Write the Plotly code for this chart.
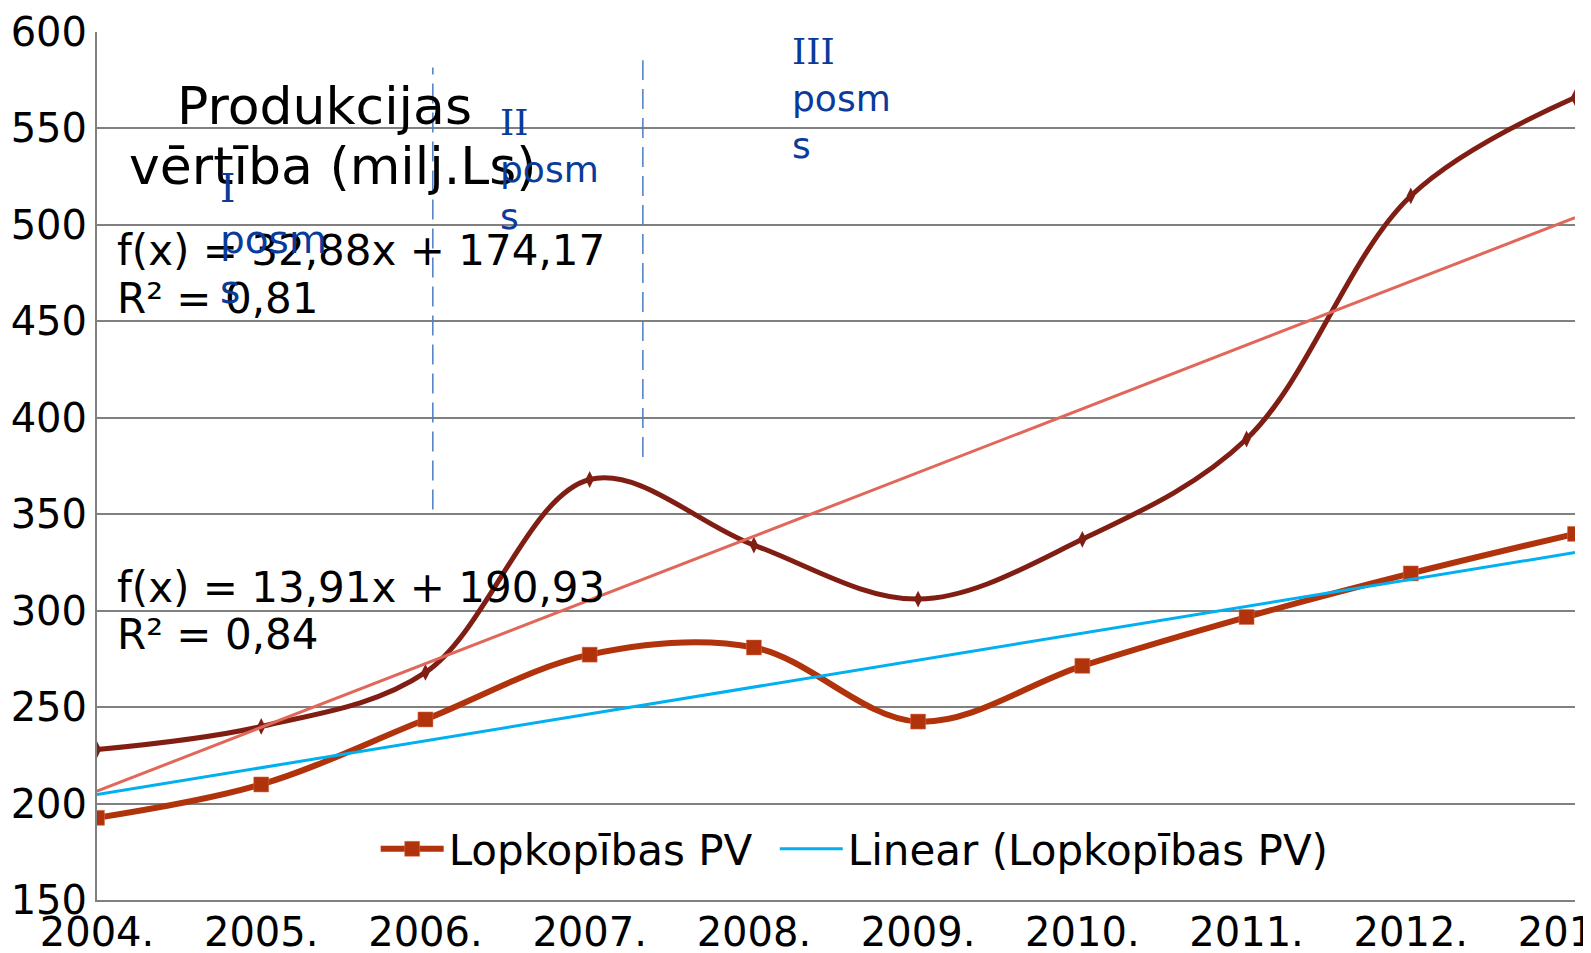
import numpy as np
import plotly.graph_objects as go

# ---------------- data ----------------
years = ["2004.", "2005.", "2006.", "2007.", "2008.", "2009.", "2010.", "2011.", "2012.", "2013."]
produkcijas_pv = [228, 240, 268, 368, 334, 306, 337, 389, 515, 566]
lopkopibas_pv = [192.6, 209.9, 243.6, 277.2, 280.9, 242.5, 271.4, 296.7, 319.3, 339.8]
y_ticks = [150, 200, 250, 300, 350, 400, 450, 500, 550, 600]

eq_total = ["f(x) = 32,88x + 174,17", "R² = 0,81"]
eq_lop = ["f(x) = 13,91x + 190,93", "R² = 0,84"]
title_lines = ["Produkcijas", "vērtība (milj.Ls)"]
stage_num = ["I", "II", "III"]
stage_word = ["posm", "s"]
# stage boundary markers (category position, y from, y to)
stage_x = [2.045, 3.324]
stage_y0 = [352.4, 379.7]
stage_y1 = [581.6, 585.3]

# ---------------- figure ----------------
OFF = 8  # default body margin of the page
W, H = 1583, 945
L, R, T, B = 89.4, 16, 23.5, 53
FONT = "DejaVu Sans"

xi = list(range(len(years)))
t = np.arange(1, len(years) + 1)
k1, b1 = np.polyfit(t, produkcijas_pv, 1)
k2, b2 = np.polyfit(t, lopkopibas_pv, 1)
trend_total = list(k1 * t + b1)
trend_lop = list(k2 * t + b2)

fig = go.Figure()
fig.add_trace(go.Scatter(
    x=xi, y=produkcijas_pv, mode="lines+markers", showlegend=False,
    line=dict(color="#801E14", width=5, shape="spline", smoothing=1.0),
    marker=dict(symbol="diamond-tall", size=12, color="#801E14"),
    name="Produkcijas PV"))
fig.add_trace(go.Scatter(
    x=xi, y=lopkopibas_pv, mode="lines+markers", legend="legend",
    line=dict(color="#B0330C", width=6, shape="spline", smoothing=1.0),
    marker=dict(symbol="square", size=15, color="#B0330C",
                line=dict(color="#E07050", width=0.5)),
    name="Lopkopības PV"))
fig.add_trace(go.Scatter(
    x=xi, y=trend_total, mode="lines", showlegend=False,
    line=dict(color="#E0675A", width=3), name="Linear (Produkcijas PV)"))
fig.add_trace(go.Scatter(
    x=xi, y=trend_lop, mode="lines", legend="legend2",
    line=dict(color="#00B0F0", width=3), name="Linear (Lopkopības PV)"))

for sx, sy0, sy1 in zip(stage_x, stage_y0, stage_y1):
    fig.add_shape(type="line", xref="x", yref="y", x0=sx, x1=sx, y0=sy0, y1=sy1,
                  line=dict(color="#4A7EC4", width=1.5, dash="20px,9px"))

pw = W - L - R
ph = H - T - B


def px(x):
    return (x - OFF - L) / pw


def py(y):
    return (H - B - (y - OFF)) / ph


def ann(text, x, y, size, color="black", xanchor="left", align="left"):
    fig.add_annotation(text=text, xref="paper", yref="paper", x=px(x), y=py(y),
                       xanchor=xanchor, yanchor="middle", align=align, showarrow=False,
                       font=dict(family=FONT, size=size, color=color))


def stage_text(num):
    return ('<span style="font-family:\'DejaVu Serif\'">' + num + "</span><br>"
            + "<br>".join(stage_word))


ann(title_lines[0], 325, 106, 52, xanchor="center", align="center")
ann(title_lines[1], 333, 166, 52, xanchor="center", align="center")
ann(eq_total[0], 115, 250, 42)
ann(eq_total[1], 115, 298, 42)
ann(eq_lop[0], 115, 587, 42)
ann(eq_lop[1], 115, 634, 42)
blue = "#0A3A9A"
ann(stage_text(stage_num[0]), 218, 239, 39, color=blue)
ann(stage_text(stage_num[1]), 498, 169, 36, color=blue)
ann(stage_text(stage_num[2]), 790, 98, 36, color=blue)

legend_common = dict(orientation="h", yanchor="middle", xanchor="left",
                     bgcolor="rgba(0,0,0,0)", itemwidth=63,
                     font=dict(family=FONT, size=42, color="black"))

fig.update_layout(
    width=W, height=H, template="none",
    margin=dict(l=L, r=R, t=T, b=B, pad=0),
    paper_bgcolor="white", plot_bgcolor="white",
    font=dict(family=FONT, size=40, color="black"),
    showlegend=True,
    legend=dict(x=px(376), y=py(849), **legend_common),
    legend2=dict(x=px(775), y=py(849), **legend_common),
    xaxis=dict(range=[0, 9], tickmode="array", tickvals=xi, ticktext=years,
               showgrid=False, zeroline=False, showline=True, linecolor="#808080",
               linewidth=2, ticks="", automargin=False, ticklabelstandoff=-4,
               ticklabeloverflow="allow",
               tickfont=dict(family=FONT, size=40, color="black")),
    yaxis=dict(range=[150, 600], tickmode="array", tickvals=y_ticks,
               showgrid=True, gridcolor="#808080", gridwidth=1.6, zeroline=False,
               showline=True, linecolor="#808080", linewidth=2, ticks="",
               automargin=False, ticklabelstandoff=0, ticklabeloverflow="allow",
               tickfont=dict(family=FONT, size=40, color="black")),
)

fig.write_html("out.html")
